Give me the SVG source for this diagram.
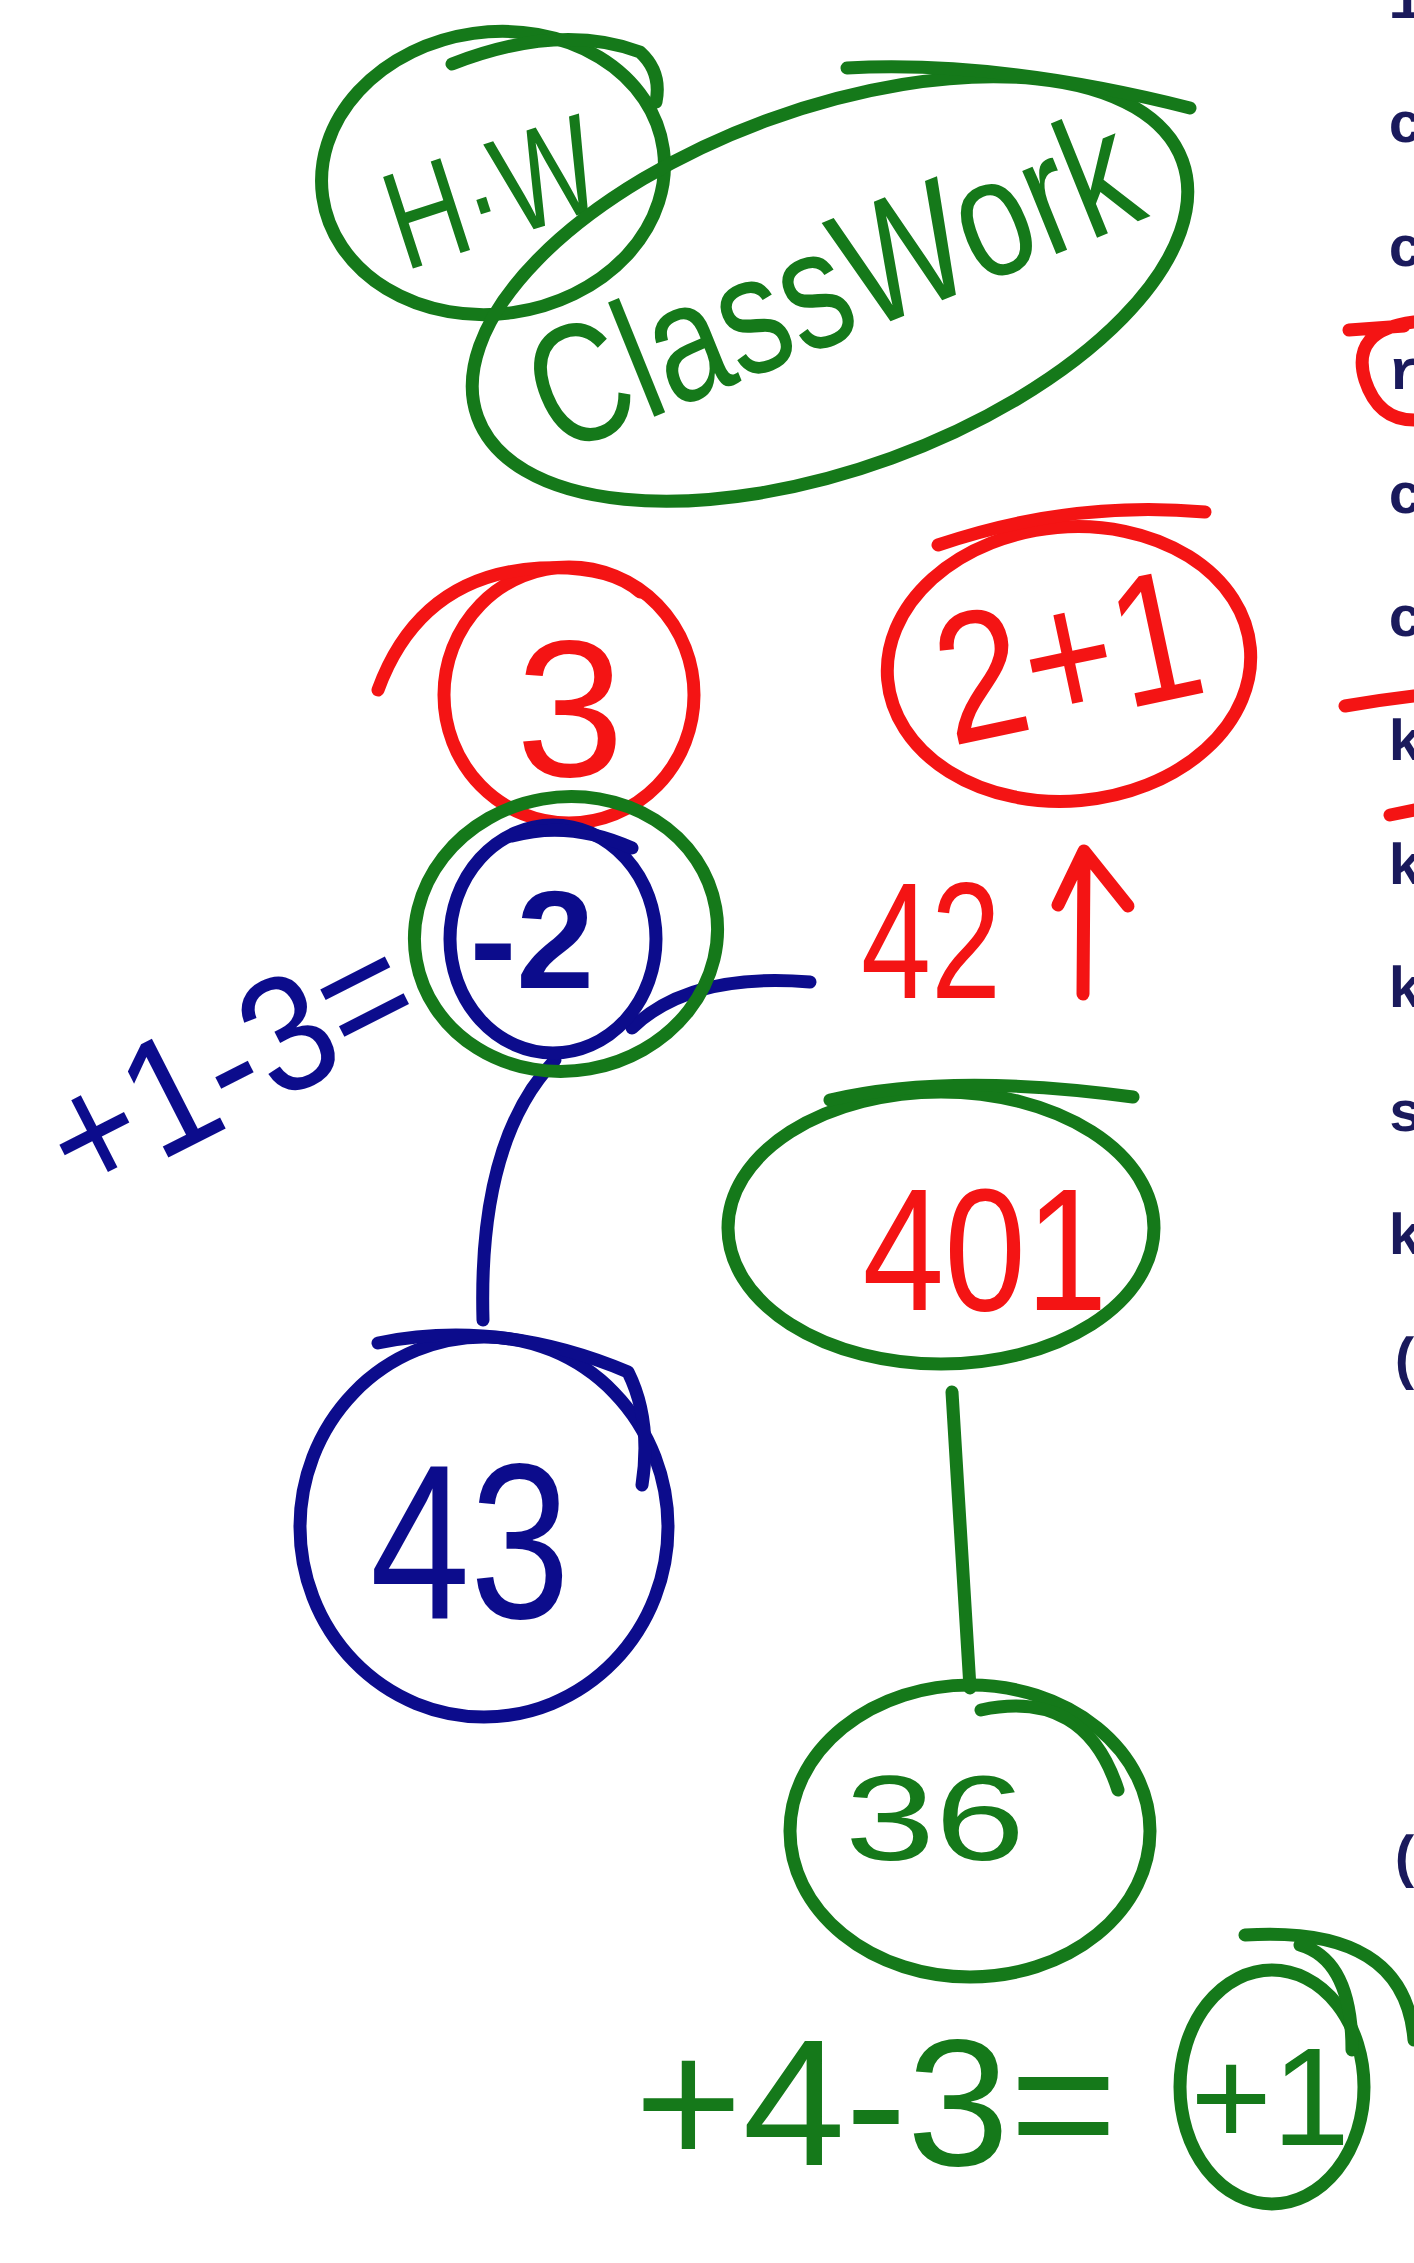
<svg xmlns="http://www.w3.org/2000/svg" width="1414" height="2263" viewBox="0 0 1414 2263">
<style>
.g{fill:none;stroke:#15791a;stroke-width:13;stroke-linecap:round;stroke-linejoin:round}
.r{fill:none;stroke:#f41414;stroke-width:13;stroke-linecap:round;stroke-linejoin:round}
.b{fill:none;stroke:#0c0c8c;stroke-width:13;stroke-linecap:round;stroke-linejoin:round}
.hand{font-family:"Liberation Sans","DejaVu Sans",sans-serif;text-anchor:middle}
.tg{fill:#15791a}.tr{fill:#f41414}.tb{fill:#0c0c8c}
.mono{font-family:"Liberation Mono","DejaVu Sans Mono",monospace;font-weight:bold;font-size:58px;fill:#1a1a5c}
</style>
<rect width="1414" height="2263" fill="#ffffff"/>

<g id="connectors">
<path class="b" d="M555,1060 Q478,1140 483,1320"/>
<path class="b" d="M632,1028 Q690,972 810,982"/>
<path class="g" d="M952,1392 L970,1688"/>
</g>

<g id="node-hw">
<ellipse class="g" cx="493" cy="173" rx="172" ry="141" transform="rotate(-8 493 173)"/>
<path class="g" d="M452,64 Q560,22 640,52 Q662,72 656,102" stroke-width="16"/>
<text class="hand tg" x="495" y="240" font-size="140" textLength="215" lengthAdjust="spacingAndGlyphs" transform="rotate(-18 495 202)">H·W</text>
</g>

<g id="node-classwork">
<ellipse class="g" cx="830" cy="289" rx="375" ry="180" transform="rotate(-20 830 289)"/>
<path class="g" d="M847,68 Q1000,60 1190,108" stroke-width="16"/>
<text class="hand tg" x="833" y="340" font-size="170" textLength="640" lengthAdjust="spacingAndGlyphs" transform="rotate(-22 833 285)">ClassWork</text>
</g>

<g id="node-3">
<ellipse class="r" cx="569" cy="695" rx="125" ry="128"/>
<path class="r" d="M378,690 Q420,575 540,568 Q610,565 640,592"/>
<text class="tr hand" x="570" y="776" font-size="195">3</text>
</g>

<g id="node-2plus1">
<ellipse class="r" cx="1069" cy="664" rx="182" ry="137" transform="rotate(-5 1069 664)"/>
<path class="r" d="M938,545 Q1070,500 1205,512"/>
<text class="tr hand" x="1068" y="720" font-size="185" textLength="265" lengthAdjust="spacingAndGlyphs" transform="rotate(-12 1068 657)">2+1</text>
</g>

<g id="node-minus2">
<ellipse class="b" cx="553" cy="939" rx="103" ry="114"/>
<ellipse class="g" cx="566" cy="934" rx="152" ry="137" transform="rotate(-10 566 934)"/>
<path class="b" d="M512,836 Q570,820 632,848"/>
<text class="tb hand" x="532" y="988" font-size="140" font-weight="bold">-2</text>
</g>

<g id="label-eq1">
<text class="tb hand" x="228" y="1120" font-size="165" textLength="390" lengthAdjust="spacingAndGlyphs" transform="rotate(-27 228 1062)">+1-3=</text>
</g>

<g id="node-42">
<text class="tr hand" x="931" y="998" font-size="165" textLength="140" lengthAdjust="spacingAndGlyphs">42</text>
<path class="r" d="M1083,994 L1084,858 M1058,905 L1084,851 L1128,906"/>
</g>

<g id="node-401">
<ellipse class="g" cx="941" cy="1228" rx="213" ry="136"/>
<path class="g" d="M830,1100 Q950,1072 1133,1097"/>
<text class="tr hand" x="985" y="1310" font-size="175" textLength="245" lengthAdjust="spacingAndGlyphs">401</text>
</g>

<g id="node-36">
<ellipse class="g" cx="970" cy="1831" rx="180" ry="146"/>
<path class="g" d="M981,1710 Q1085,1688 1118,1790"/>
<text class="tg hand" x="935" y="1860" font-size="120" textLength="180" lengthAdjust="spacingAndGlyphs">36</text>
</g>

<g id="node-43">
<ellipse class="b" cx="484" cy="1527" rx="184" ry="190"/>
<path class="b" d="M378,1343 Q500,1318 628,1372 Q652,1420 642,1485"/>
<text class="tb hand" x="470" y="1618" font-size="220" textLength="200" lengthAdjust="spacingAndGlyphs">43</text>
</g>

<g id="label-eq2">
<text class="tg hand" x="876" y="2165" font-size="180" textLength="483" lengthAdjust="spacingAndGlyphs">+4-3=</text>
</g>

<g id="node-plus1">
<ellipse class="g" cx="1272" cy="2087" rx="92" ry="117"/>
<path class="g" d="M1245,1935 Q1405,1925 1414,2040 M1300,1945 Q1352,1960 1352,2050"/>
<text class="tg hand" x="1270" y="2145" font-size="140">+1</text>
</g>

<g id="margin-text">
<text class="mono" x="1388" y="18">1</text>
<text class="mono" x="1388" y="142">c</text>
<text class="mono" x="1388" y="266">c</text>
<text class="mono" x="1388" y="389">r</text>
<text class="mono" x="1388" y="513">c</text>
<text class="mono" x="1388" y="636">c</text>
<text class="mono" x="1388" y="760">k</text>
<text class="mono" x="1388" y="884">k</text>
<text class="mono" x="1388" y="1007">k</text>
<text class="mono" x="1388" y="1131">s</text>
<text class="mono" x="1388" y="1254">k</text>
<text class="mono" x="1388" y="1378">(</text>
<text class="mono" x="1388" y="1876">(</text>
<path class="r" d="M1349,330 L1404,326 M1414,322 Q1350,330 1365,380 Q1378,420 1414,420"/>
<path class="r" d="M1345,706 Q1380,700 1414,696"/>
<path class="r" d="M1390,815 L1414,810"/>
</g>
</svg>
